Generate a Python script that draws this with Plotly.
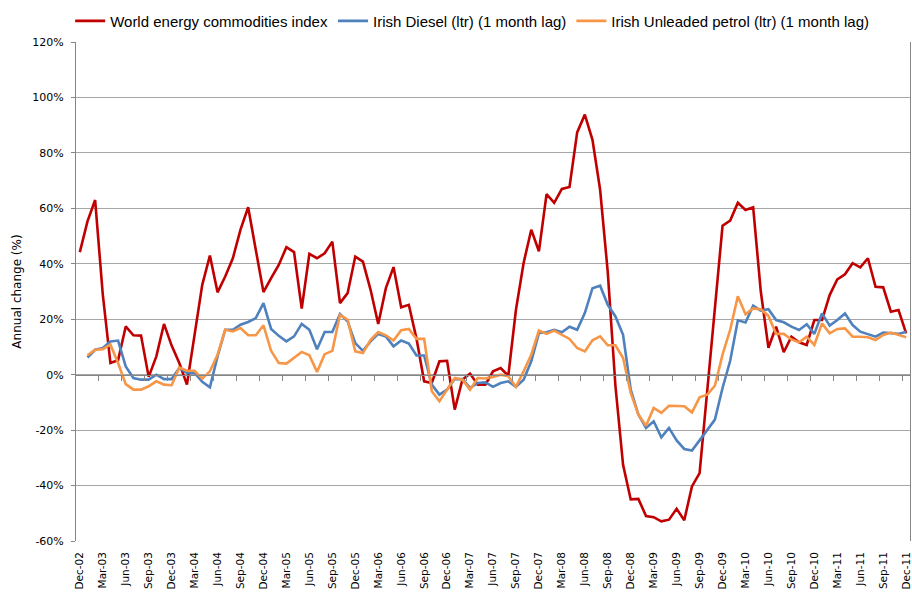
import plotly.graph_objects as go

# Monthly categories, Dec-02 .. Dec-11
MONTH_NAMES = ["Jan", "Feb", "Mar", "Apr", "May", "Jun", "Jul", "Aug", "Sep", "Oct", "Nov", "Dec"]
MONTHS = ["Dec-02"] + [f"{m}-{y:02d}" for y in range(3, 12) for m in MONTH_NAMES]

TICK_LABELS = ["Dec-02", "Mar-03", "Jun-03", "Sep-03", "Dec-03", "Mar-04", "Jun-04", "Sep-04",
               "Dec-04", "Mar-05", "Jun-05", "Sep-05", "Dec-05", "Mar-06", "Jun-06", "Sep-06",
               "Dec-06", "Mar-07", "Jun-07", "Sep-07", "Dec-07", "Mar-08", "Jun-08", "Sep-08",
               "Dec-08", "Mar-09", "Jun-09", "Sep-09", "Dec-09", "Mar-10", "Jun-10", "Sep-10",
               "Dec-10", "Mar-11", "Jun-11", "Sep-11", "Dec-11"]

WORLD_ENERGY = [44.2, 55.3, 63, 29, 4.2, 5.2, 17.4, 14.2, 14.1, -0.8, 6.6, 18.3,
                10.5, 4.2, -3.6, 14, 32.4, 43, 29.7, 35.4, 42, 52.3, 60.4, 45,
                29.8, 34.8, 39.6, 46, 44.2, 23.8, 43.6, 42, 43.8, 48, 25.8, 29.4,
                42.6, 40.8, 30.6, 18.3, 31.2, 38.8, 24.3, 25.2, 13, -2.4, -3, 4.8,
                5, -12.6, -1.8, 0.4, -3.6, -3.6, 1.2, 2.4, -0.4, 23.4, 40.3, 52.3,
                44.5, 65.1, 62, 67, 67.7, 87.4, 93.8, 84.7, 66.7, 37, -4, -32.5,
                -45, -44.8, -51, -51.4, -52.9, -52.3, -48.4, -52.5, -40.3, -35.5, -6, 24,
                53.7, 55.6, 62, 59.4, 60.4, 30, 9.7, 17.3, 8.1, 13.7, 11.7, 10.7,
                19.7, 19.7, 28.7, 34.4, 36.2, 40.2, 38.7, 42, 31.7, 31.5, 22.7, 23.3,
                14.9]

IRISH_DIESEL = [None, 6.2, 9, 9.6, 12, 12.3, 3, -1.2, -1.8, -1.8, 0, -1.6,
                -1.6, 2.4, 0.6, 0.6, -2.6, -4.6, 6.6, 16.2, 16.2, 18, 19, 20.4,
                25.8, 16.5, 14, 12, 13.8, 18.3, 16.2, 9.2, 15.4, 15.4, 21.9, 19.2,
                11.4, 8.6, 12, 14.7, 13.8, 10.2, 12.3, 11.2, 6.9, 6.9, -3.6, -7.2,
                -5.4, -1.6, -1.6, -4.8, -3, -2.8, -4.4, -3, -2.4, -4.4, -1.8, 4.8,
                15, 15.3, 16.2, 15.3, 17.3, 16.2, 22.2, 31.2, 32.1, 25.2, 21, 14.4,
                -5.4, -14.4, -19.2, -16.8, -22.6, -19.2, -23.7, -26.8, -27.4, -23.7, -19.8, -16.2,
                -4.8, 5, 19.6, 18.8, 24.9, 23.1, 23.6, 19.7, 18.9, 17.3, 16.1, 18.2,
                14.7, 22.1, 17.7, 19.7, 22.1, 17.9, 15.5, 14.7, 13.7, 15.2, 14.9, 14.7,
                15.5]

IRISH_PETROL = [None, 7, 9, 9.2, 10.8, 4.2, -3.4, -5.4, -5.4, -4.2, -2.4, -3.6,
                -3.8, 2.6, 1.4, 1.4, -1.4, 1.2, 7.2, 16.2, 15.6, 16.8, 14.2, 14.2,
                17.8, 8.6, 4.2, 4, 6, 8.2, 7, 1, 7.4, 8.6, 21.6, 19.8,
                8.4, 7.8, 12.6, 15.4, 14.2, 12.3, 16, 16.5, 12.9, 12.9, -6, -9.6,
                -5.4, -1.2, -1.8, -5.4, -1.2, -1.4, -0.8, 0, -0.6, -4.4, 1.2, 7.2,
                15.9, 14.7, 15.9, 14.3, 12.9, 9.6, 8.4, 12.4, 13.8, 10.6, 10.6, 6,
                -6.6, -14.4, -18.4, -12, -13.8, -11.2, -11.4, -11.4, -13.6, -8.2, -7.2, -4,
                7.2, 16.2, 28.3, 21.8, 23.9, 23.6, 21.2, 14.7, 14.7, 12.7, 11.7, 13.7,
                10.7, 18.5, 14.9, 16.5, 16.7, 13.7, 13.7, 13.5, 12.5, 14.3, 15.2, 14.3,
                13.5]

SERIES = [
    ("World energy commodities index", WORLD_ENERGY, "#C00000"),
    ("Irish Diesel (ltr) (1 month lag)", IRISH_DIESEL, "#4F81BD"),
    ("Irish Unleaded petrol (ltr) (1 month lag)", IRISH_PETROL, "#F79646"),
]

Y_TICKS = [-60, -40, -20, 0, 20, 40, 60, 80, 100, 120]
Y_TICK_TEXT = [f"{v}%" for v in Y_TICKS]

n = len(MONTHS)
boundary_ticks = [i - 0.5 for i in range(3, n, 3)]

fig = go.Figure()
for name, vals, color in SERIES:
    fig.add_trace(go.Scatter(x=MONTHS, y=vals, mode="lines", name=name,
                             line=dict(color=color, width=2.6), connectgaps=False))

# helper trace for the 0% category axis line with tick marks
fig.add_trace(go.Scatter(x=[], y=[], xaxis="x2", showlegend=False, hoverinfo="skip"))

GRID = "#A6A6A6"
AXIS = "#868686"
FONT = "DejaVu Sans"

fig.update_layout(
    width=912, height=598,
    margin=dict(l=76, r=2, t=42, b=57, autoexpand=False),
    paper_bgcolor="white", plot_bgcolor="white",
    font=dict(family=FONT, size=12, color="#000000"),
    showlegend=True,
    legend=dict(orientation="h", x=0.475, xanchor="center", y=1.075, yanchor="top",
                font=dict(family="Liberation Sans, Arial", size=15),
                itemwidth=30, tracegroupgap=0, bgcolor="rgba(0,0,0,0)"),
    xaxis=dict(type="category", range=[-0.5, n - 0.5], tickmode="array",
               tickvals=TICK_LABELS, ticktext=TICK_LABELS, tickangle=-90,
               ticks="", showgrid=False, showline=False, zeroline=False, automargin=False,
               tickfont=dict(family=FONT, size=10.5), ticklabelstandoff=8),
    xaxis2=dict(overlaying="x", anchor="free", position=60 / 180, type="linear",
                range=[-0.5, n - 0.5], tickmode="array", tickvals=boundary_ticks,
                ticks="outside", ticklen=5, tickcolor=AXIS, showticklabels=False,
                showline=True, linecolor=AXIS, linewidth=1, showgrid=False, zeroline=False),
    yaxis=dict(range=[-60, 120], tickmode="array", tickvals=Y_TICKS, ticktext=Y_TICK_TEXT,
               showgrid=True, gridcolor=GRID, gridwidth=1, zeroline=False, automargin=False,
               showline=True, linecolor=AXIS, linewidth=1, mirror=True,
               ticks="outside", ticklen=4, tickcolor=AXIS, ticklabelstandoff=5,
               tickfont=dict(family=FONT, size=11),
               title=dict(text="Annual change (%)", font=dict(family=FONT, size=12), standoff=8)),
)

fig.write_html("out.html", config={"displayModeBar": False},
               post_script="document.body.style.margin='0';")
